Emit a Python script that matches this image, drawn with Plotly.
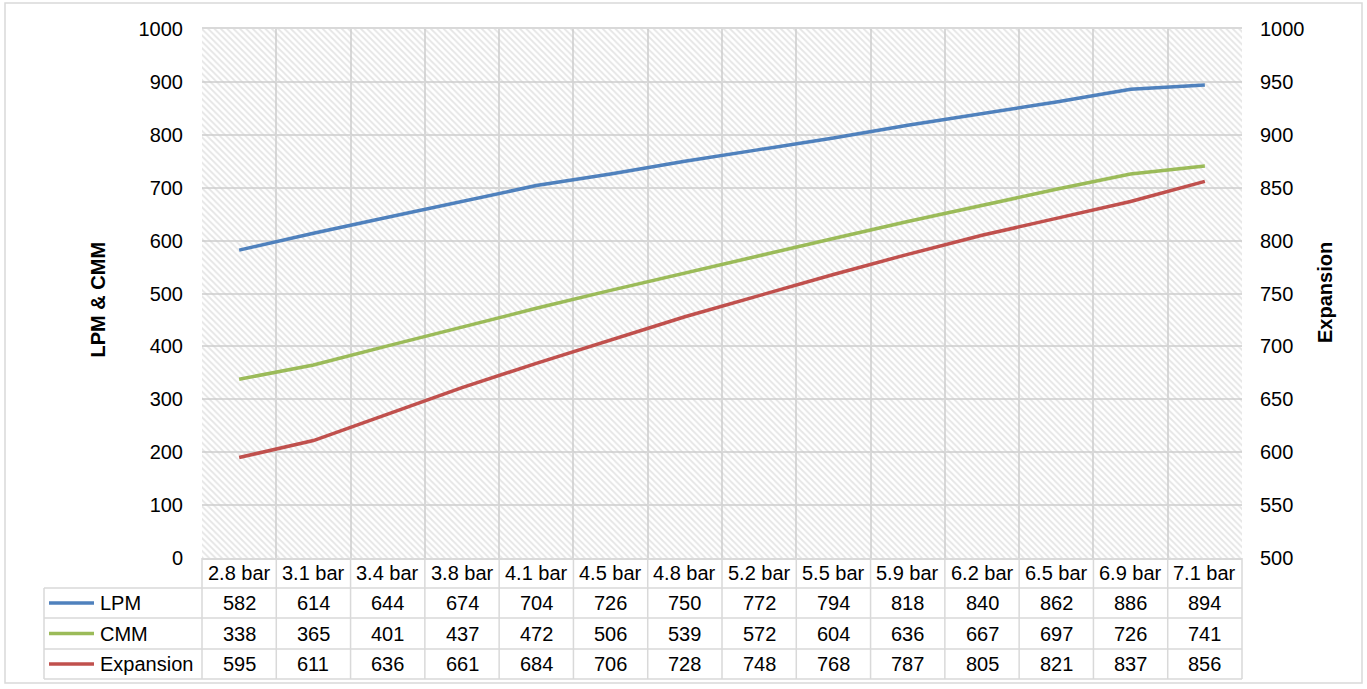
import plotly.graph_objects as go

# Pressure settings and measured values
categories = ["2.8 bar", "3.1 bar", "3.4 bar", "3.8 bar", "4.1 bar", "4.5 bar", "4.8 bar",
              "5.2 bar", "5.5 bar", "5.9 bar", "6.2 bar", "6.5 bar", "6.9 bar", "7.1 bar"]
lpm = [582, 614, 644, 674, 704, 726, 750, 772, 794, 818, 840, 862, 886, 894]
cmm = [338, 365, 401, 437, 472, 506, 539, 572, 604, 636, 667, 697, 726, 741]
expansion = [595, 611, 636, 661, 684, 706, 728, 748, 768, 787, 805, 821, 837, 856]

left_range = [0, 1000]
right_range = [500, 1000]

W, H = 1367, 689
PL, PR, PT, PB = 202, 1242, 29, 558   # plot area in pixels
FONT = "Liberation Sans, Arial, sans-serif"
GRID = "#d9d9d9"
FS = 20

series = [
    ("LPM", lpm, "#4f81bd", "y"),
    ("CMM", cmm, "#9bbb59", "y"),
    ("Expansion", expansion, "#c0504d", "y2"),
]


def px_x(p):
    return (p - PL) / (PR - PL)


def px_y(p):
    return (PB - p) / (PB - PT)


fig = go.Figure()

# hatched plot-area background
fig.add_trace(go.Bar(
    x=categories, y=[left_range[1]] * len(categories), width=1,
    marker=dict(color="rgba(0,0,0,0)", line=dict(width=0),
                pattern=dict(shape="\\", fgcolor="#cccccc", size=4.5, solidity=0.4,
                             fillmode="overlay")),
    hoverinfo="skip", showlegend=False,
))

for name, vals, color, yax in series:
    fig.add_trace(go.Scatter(
        x=categories, y=vals, mode="lines", name=name, yaxis=yax,
        line=dict(color=color, width=3.5), showlegend=False,
    ))

annotations = []
shapes = []

# data table rows (pixel rows below the plot)
row_lines = [PB, 588, 618, 649, 679]
row_centers = [(row_lines[i] + row_lines[i + 1]) / 2 for i in range(4)]
TL = 44

for i, c in enumerate(categories):
    annotations.append(dict(x=i, y=px_y(row_centers[0]), xref="x", yref="paper",
                            xanchor="center", yanchor="middle",
                            text=c, showarrow=False, font=dict(size=FS, color="#000")))
    for r, (name, vals, color, yax) in enumerate(series):
        annotations.append(dict(x=i, y=px_y(row_centers[r + 1]), xref="x", yref="paper",
                                xanchor="center", yanchor="middle",
                                text=str(vals[i]), showarrow=False,
                                font=dict(size=FS, color="#000")))

for r, (name, vals, color, yax) in enumerate(series):
    yc = px_y(row_centers[r + 1])
    shapes.append(dict(type="line", xref="paper", yref="paper",
                       x0=px_x(49), x1=px_x(94), y0=yc, y1=yc,
                       line=dict(color=color, width=3.5)))
    annotations.append(dict(x=px_x(98), y=yc, xref="paper", yref="paper",
                            text=name, showarrow=False, xanchor="left", yanchor="middle",
                            font=dict(size=FS, color="#000")))

# table grid lines
for yl in row_lines[1:]:
    yp = px_y(yl)
    shapes.append(dict(type="line", xref="paper", yref="paper",
                       x0=px_x(TL), x1=1.0, y0=yp, y1=yp,
                       line=dict(color=GRID, width=1.5)))
shapes.append(dict(type="line", xref="paper", yref="paper",
                   x0=px_x(TL), x1=px_x(TL), y0=px_y(588), y1=px_y(679),
                   line=dict(color=GRID, width=1.5)))
for i in range(len(categories) + 1):
    xb = i / len(categories)
    shapes.append(dict(type="line", xref="paper", yref="paper",
                       x0=xb, x1=xb, y0=0, y1=px_y(679),
                       line=dict(color=GRID, width=1.5)))

# outer chart border
shapes.append(dict(type="rect", xref="paper", yref="paper",
                   x0=px_x(5), x1=px_x(1362), y0=px_y(683), y1=px_y(3),
                   line=dict(color=GRID, width=1.5), layer="below"))

# axis titles
annotations.append(dict(x=px_x(97.5), y=px_y(300), xref="paper", yref="paper",
                        xanchor="center", yanchor="middle",
                        text="<b>LPM &amp; CMM</b>", textangle=-90, showarrow=False,
                        font=dict(size=20, color="#000")))
annotations.append(dict(x=px_x(1325), y=px_y(293), xref="paper", yref="paper",
                        xanchor="center", yanchor="middle",
                        text="<b>Expansion</b>", textangle=-90, showarrow=False,
                        font=dict(size=20, color="#000")))

fig.update_layout(
    width=W, height=H,
    margin=dict(l=PL, r=W - PR, t=PT, b=H - PB),
    paper_bgcolor="white", plot_bgcolor="white",
    font=dict(family=FONT, size=FS, color="#000"),
    bargap=0,
    xaxis=dict(type="category", categoryorder="array", categoryarray=categories,
               range=[-0.5, len(categories) - 0.5], tickson="boundaries",
               showgrid=True, gridcolor=GRID, gridwidth=1.5,
               showticklabels=False, ticks="", showline=True, linecolor=GRID,
               linewidth=1.5, mirror=True, zeroline=False, fixedrange=True),
    yaxis=dict(range=left_range, dtick=100, showgrid=True, gridcolor=GRID, gridwidth=1.5,
               ticks="", ticklabelstandoff=18, zeroline=False, showline=False,
               tickfont=dict(size=FS), fixedrange=True),
    yaxis2=dict(range=right_range, dtick=50, overlaying="y", side="right",
                showgrid=False, ticks="", ticklabelstandoff=17, zeroline=False,
                tickfont=dict(size=FS), fixedrange=True),
    annotations=annotations, shapes=shapes,
    showlegend=False,
)

fig.write_html("out.html")
